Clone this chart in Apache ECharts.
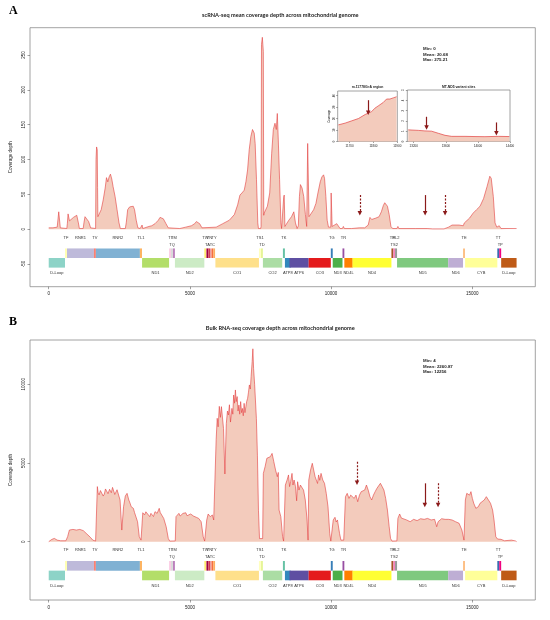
<!DOCTYPE html>
<html>
<head>
<meta charset="utf-8">
<title>Mitochondrial coverage</title>
<script src="https://cdn.jsdelivr.net/npm/echarts@6/dist/echarts.min.js"></script>
<style>html,body{margin:0;padding:0;background:#fff}#main{width:550px;height:620px}</style>
</head>
<body>
<div id="main"></div>
<script>
// ---- coverage, scRNA-seq (position, mean depth) ----
var covA = [[0,2],[150,2],[300,3],[340,4],[355,25],[395,24],[410,2],[430,1],[640,1],[660,8],[685,22],[705,21],[735,12],[805,13],[876,17],[934,19],[993,20],[1016,22],[1051,9],[1086,1],[1220,1],[1250,10],[1285,18],[1344,17],[1414,11],[1484,2],[1543,1],[1660,1],[1675,100],[1695,118],[1718,114],[1730,60],[1741,18],[1790,17],[1858,28],[1929,42],[1999,59],[2046,74],[2092,68],[2139,75],[2186,79],[2233,72],[2280,61],[2350,47],[2420,28],[2490,9],[2537,1],[2713,1],[2748,10],[2795,28],[2865,32],[2935,32],[2993,33],[3040,28],[3099,13],[3157,2],[3239,1],[3290,2],[3306,6],[3330,1],[3400,3],[3550,4],[3649,5],[3766,8],[3883,13],[3941,17],[4000,17],[4058,15],[4152,8],[4233,2],[4292,1],[4643,1],[4850,3],[5053,5],[5170,8],[5228,11],[5287,12],[5345,8],[5427,2],[5470,0.5],[5930,3],[6164,8],[6398,13],[6574,21],[6691,35],[6772,49],[6843,52],[6924,56],[6983,68],[7042,85],[7100,114],[7159,133],[7217,143],[7250,141],[7276,138],[7311,123],[7358,71],[7404,9],[7428,1],[7505,1],[7520,4],[7535,265],[7565,275.21],[7600,255],[7615,20],[7627,23],[7744,33],[7826,52],[7896,109],[7954,143],[8013,152],[8060,143],[8095,166],[8130,128],[8176,71],[8223,9],[8247,1],[8310,1],[8322,46],[8340,49],[8364,4],[8387,6],[8504,13],[8598,18],[8680,25],[8738,9],[8797,1],[8840,5],[8879,47],[8914,64],[8972,59],[9031,47],[9090,21],[9136,4],[9160,3],[9171,123],[9194,121],[9218,18],[9265,18],[9382,28],[9463,37],[9534,52],[9616,68],[9674,75],[9733,78],[9768,73],[9815,47],[9861,13],[9908,3],[9990,3],[10002,52],[10025,50],[10037,4],[10084,6],[10200,8],[10318,1],[10400,1],[10435,4],[10470,1],[10727,1],[11000,2],[11190,2],[11314,6],[11376,17],[11438,14],[11500,16],[11586,16],[11650,15],[11700,18],[11780,25],[11850,34],[11900,38],[11940,38],[11995,33],[12057,21],[12119,4],[12180,1],[12330,1],[12366,4],[12400,1],[13000,1],[13400,1],[13600,0.5],[14000,0.5],[14160,3],[14284,6],[14533,6],[14594,4],[14681,5],[14718,9],[14780,10],[14904,16],[15028,23],[15151,28],[15275,33],[15400,44],[15522,61],[15621,76],[15671,73],[15745,47],[15807,9],[15869,3],[15955,5],[16017,1],[16569,1]];

// ---- coverage, bulk RNA-seq ----
var covB = [[0,4],[113,150],[200,210],[299,100],[422,60],[608,60],[670,320],[732,740],[856,780],[979,740],[1103,780],[1227,700],[1351,490],[1474,280],[1561,100],[1660,40],[1700,40],[1722,3500],[1750,3100],[1784,2970],[1830,3250],[1883,3180],[1930,2900],[1970,3030],[2010,3350],[2056,3280],[2100,3050],[2155,3330],[2217,3110],[2260,3450],[2304,3390],[2340,3000],[2378,3070],[2420,3300],[2465,3180],[2526,2650],[2588,740],[2650,2220],[2712,2900],[2774,3070],[2836,2650],[2880,2450],[2922,2220],[2997,2120],[3040,1850],[3083,1910],[3146,1270],[3207,320],[3269,100],[3300,100],[3331,1840],[3393,1700],[3440,1900],[3492,1800],[3579,1590],[3620,1800],[3665,1760],[3710,1600],[3764,1910],[3839,1800],[3913,2120],[3950,1850],[3987,1910],[4073,1480],[4160,950],[4234,210],[4284,40],[4482,50],[4507,1590],[4568,1700],[4610,1800],[4655,1630],[4755,1800],[4853,1840],[4900,1650],[4940,1700],[5027,1760],[5126,1630],[5225,1550],[5311,1480],[5398,1270],[5472,320],[5522,40],[5570,60],[5596,1380],[5646,1760],[5720,1590],[5794,1700],[5843,1380],[5905,1270],[5930,6500],[5967,7840],[6000,7300],[6041,8600],[6080,7900],[6116,8580],[6190,7200],[6239,4300],[6289,7500],[6330,8300],[6363,8050],[6400,8700],[6437,7600],[6487,8470],[6520,8100],[6549,9320],[6580,8800],[6611,9640],[6640,8900],[6673,9220],[6705,8300],[6735,8680],[6765,8100],[6797,8900],[6830,8200],[6858,8470],[6890,8000],[6920,8790],[6950,8200],[6982,8580],[7010,8900],[7044,9110],[7075,9500],[7106,9960],[7140,9700],[7168,10500],[7205,11440],[7230,12256],[7255,11000],[7292,10000],[7329,9950],[7354,7840],[7391,5500],[7428,2000],[7465,200],[7576,200],[7601,4340],[7663,4770],[7725,5300],[7787,5190],[7848,5400],[7910,5610],[7972,5080],[8034,4550],[8096,4130],[8130,4400],[8158,2010],[8220,1590],[8282,320],[8319,40],[8350,60],[8381,3600],[8442,3920],[8492,4240],[8530,3500],[8566,3810],[8616,4340],[8650,3600],[8690,3920],[8740,3490],[8780,2600],[8814,3810],[8863,3280],[8913,3600],[8963,3600],[9025,3280],[9087,2650],[9149,1380],[9185,100],[9210,3920],[9272,4550],[9334,4980],[9383,4870],[9433,4130],[9483,4030],[9520,3700],[9557,4240],[9600,3900],[9644,4340],[9705,3920],[9767,3710],[9829,3070],[9891,2220],[9952,530],[9990,40],[10040,60],[10076,1380],[10138,1550],[10180,1250],[10225,1380],[10299,530],[10348,100],[10448,100],[10509,2860],[10571,3070],[10633,2750],[10695,2960],[10757,3070],[10819,2750],[10881,2960],[10943,2540],[11005,2960],[11067,3180],[11129,3110],[11190,3280],[11252,3600],[11314,3280],[11376,2860],[11438,2650],[11500,2960],[11561,3180],[11623,3390],[11685,3500],[11747,3710],[11809,3500],[11871,3280],[11933,2750],[11995,2010],[12057,950],[12106,210],[12156,40],[12330,50],[12366,1480],[12428,1760],[12490,1500],[12552,1380],[12676,1380],[12740,1500],[12800,1270],[12923,1420],[13047,1340],[13171,1460],[13295,1420],[13418,1480],[13542,1380],[13666,1420],[13740,950],[13790,1270],[13914,1460],[14037,1420],[14161,1420],[14284,1380],[14409,1270],[14533,1170],[14632,740],[14706,100],[14755,2650],[14804,3070],[14854,3180],[14904,2960],[14953,3180],[15003,2750],[15052,2440],[15126,2120],[15213,2220],[15275,2440],[15337,2440],[15424,2650],[15498,2860],[15572,2650],[15646,2440],[15720,2010],[15770,1380],[15832,320],[15894,170],[16017,150],[16141,60],[16389,100],[16537,40],[16569,4]];

// ---- inset regions (scRNA-seq) ----
var inset1Cov = [[11653,14.5],[11681,16],[11709,18],[11737,20],[11765,23.5],[11792,26],[11806,29],[11820,31],[11841,34],[11855,37],[11869,37],[11883,38],[11897,39]];
var inset2Cov = [[13132,1.13],[13257,1.08],[13340,1.03],[13423,1.0],[13506,0.8],[13590,0.6],[13673,0.5],[13839,0.5],[13964,0.48],[14088,0.47],[14254,0.5],[14392,0.48]];

// ---- stats ----
var statsA = ['Min: 0', 'Mean: 20.68', 'Max: 275.21'];
var statsB = ['Min: 4', 'Mean: 2260.87', 'Max: 12256'];
var maxA = 275.21, maxB = 12256;

// ---- arrows (position, from, to, dashed) ----
var arrowPosA = [11017, 13331, 14037], arrowFromA = [49, 49, 49], arrowToA = [23, 23, 23];
var arrowPosB = [10918, 13319, 13789], arrowFromB = [5084, 3708, 3708], arrowToB = [3750, 2331, 2331];
var arrowDash = [true, false, true];
var inset1Arrow = [11778, 36, 25];
var inset2ArrowPos = [13360, 14230], inset2ArrowFrom = [2.4, 1.85], inset2ArrowTo = [1.35, 0.8];

// ---- ticks ----
var xTicks = [0, 5000, 10000, 15000];
var yTicksA = [-50, 0, 50, 100, 150, 200, 250];
var yTicksB = [0, 5000, 10000];
var inset1XTicks = [11700, 11800, 11900], inset1YTicks = [0, 10, 20, 30, 40];
var inset2XTicks = [13200, 13600, 14000, 14400], inset2YTicks = [0, 1, 2, 3, 4, 5];

// ---- gene track ----
var geneNames = ['D-Loop','TF','RNR1','TV','RNR2','TL1','ND1','TI','TQ','TM','ND2','TW','TA','TN','TC','TY','CO1','TS1','TD','CO2','TK','ATP8','ATP6','CO3','TG','ND3','TR','ND4L','ND4','TH','TS2','TL2','ND5','ND6','TE','CYB','TT','TP','D-Loop'];
var geneStart = [1,577,648,1602,1671,3230,3307,4263,4329,4402,4470,5512,5587,5657,5761,5826,5904,7446,7518,7586,8295,8366,8527,9207,9991,10059,10405,10470,10760,12138,12207,12266,12337,14149,14674,14747,15888,15956,16024];
var geneEnd = [576,647,1601,1670,3229,3304,4262,4331,4400,4469,5511,5579,5655,5729,5826,5891,7445,7514,7585,8269,8364,8572,9207,9990,10058,10404,10469,10766,12137,12206,12265,12336,14148,14673,14742,15887,15953,16023,16569];
// 1 = RNA row, 2 = protein / D-loop row
var geneRow = [2,1,1,1,1,1,2,1,1,1,2,1,1,1,1,1,2,1,1,2,1,2,2,2,1,2,1,2,2,1,1,1,2,2,1,2,1,1,2];
// 1 = label above, 2 = label above (second line), 3 = label below
var geneLevel = [3,1,1,1,1,1,3,1,2,1,3,1,2,1,2,1,3,1,2,3,1,3,3,3,1,3,1,3,3,1,2,1,3,3,1,3,1,2,3];

var geneColors = [
  '#8dd3c7','#ffffb3','#bebada','#fb8072','#80b1d3','#fdb462','#b3de69','#fccde5','#d9d9d9','#bc80bd','#ccebc5','#ffed6f',
  '#9e0142','#d53e4f','#f46d43','#fdae61','#fee08b','#ffffbf','#e6f598','#abdda4','#66c2a5','#3288bd','#5e4fa2',
  '#e41a1c','#377eb8','#4daf4a','#984ea3','#ff7f00','#ffff33','#a65628','#f781bf','#999999',
  '#7fc97f','#beaed4','#fdc086','#ffff99','#386cb0','#f0027f','#bf5b17'
];

var SANS = 'Liberation Sans';
var TXT = '#1a1a1a';

function geneSeries(idx, yMax) {
  return {
    type: 'custom',
    xAxisIndex: idx, yAxisIndex: idx,
    silent: true,
    z: 3,
    data: geneNames.map(function (n, i) {
      return [geneStart[i], geneEnd[i], geneRow[i], geneLevel[i], i];
    }),
    renderItem: function (params, api) {
      var s = api.value(0), e = api.value(1), row = api.value(2), lvl = api.value(3), i = api.value(4);
      var top = row === 1 ? -0.1 : -0.15;
      var p1 = api.coord([s - 1, top * yMax]);
      var p2 = api.coord([e, (top - 0.05) * yMax]);
      var lp = api.coord([(s + e) / 2, [0, -0.045, -0.08, -0.228][lvl] * yMax]);
      return {
        type: 'group',
        children: [
          { type: 'rect', shape: { x: p1[0], y: p1[1], width: Math.max(p2[0] - p1[0], 0.8), height: p2[1] - p1[1] },
            style: { fill: geneColors[i] } },
          { type: 'text', x: lp[0], y: lp[1],
            style: { text: geneNames[i], fill: '#333', fontSize: 4, fontFamily: SANS, align: 'center', verticalAlign: 'middle' } }
        ]
      };
    }
  };
}

function arrowLines(pos, from, to, dash) {
  return pos.map(function (x, i) {
    var ls = { color: '#8b1a1a', width: 1.2, type: dash[i] ? [2, 1.5] : 'solid' };
    return [{ coord: [x, from[i]], lineStyle: ls }, { coord: [x, to[i]], lineStyle: ls }];
  });
}

function covSeries(idx, data, arrows, lw) {
  return {
    type: 'line',
    xAxisIndex: idx, yAxisIndex: idx,
    data: data,
    showSymbol: false,
    symbol: 'none',
    silent: true,
    z: 2,
    lineStyle: { color: '#e23b3b', width: lw, opacity: 0.85 },
    areaStyle: { color: '#f3cbbc', opacity: 1 },
    markLine: arrows ? {
      silent: true,
      symbol: ['none', 'triangle'],
      symbolSize: [4.5, 4.5],
      label: { show: false },
      animation: false,
      data: arrows
    } : undefined
  };
}

function plain(v) { return String(v); }

function xAxis(idx, min, max, ticks, fs) {
  return {
    type: 'value', gridIndex: idx, min: min, max: max,
    axisLine: { show: false, onZero: false },
    axisTick: { show: true, customValues: ticks, length: fs < 4 ? 1.5 : 2.5, lineStyle: { color: '#444', width: 0.5 } },
    axisLabel: { customValues: ticks, formatter: plain, fontSize: fs, color: TXT, fontFamily: SANS, margin: fs < 4 ? 3 : 5 },
    splitLine: { show: false }
  };
}

function yAxis(idx, min, max, ticks, fs, name, gap) {
  return {
    type: 'value', gridIndex: idx, min: min, max: max,
    name: name, nameLocation: 'middle', nameGap: gap,
    nameTextStyle: { fontSize: fs, color: TXT, fontFamily: SANS },
    axisLine: { show: false, onZero: false },
    axisTick: { show: true, customValues: ticks, length: fs < 4 ? 1.5 : 2.5, lineStyle: { color: '#444', width: 0.5 } },
    axisLabel: { customValues: ticks, formatter: plain, fontSize: fs, color: TXT, fontFamily: SANS, rotate: 90, margin: fs < 4 ? 2.5 : 4 },
    splitLine: { show: false }
  };
}

var gridStyle = { show: true, borderColor: '#8c8c8c', borderWidth: 0.8, backgroundColor: 'rgba(0,0,0,0)' };

var myChart = echarts.init(document.getElementById('main'));

var option = {
  animation: false,
  backgroundColor: '#fff',
  title: [
    { text: 'A', left: 9, top: 5, padding: 0, textStyle: { fontFamily: 'Liberation Serif', fontWeight: 'bold', fontSize: 12, color: '#000' } },
    { text: 'scRNA-seq mean coverage depth across mitochondrial genome', left: 280.3, top: 12, textAlign: 'center', padding: 0,
      textStyle: { fontFamily: 'Lato', fontWeight: 'bold', fontSize: 5.6, color: TXT } },
    { text: statsA.join('\n'), left: 423, top: 46, padding: 0,
      textStyle: { fontFamily: SANS, fontWeight: 'bold', fontSize: 4.4, lineHeight: 5.7, color: TXT } },
    { text: 'm.11778G>A region', left: 367.5, top: 85.5, textAlign: 'center', padding: 0,
      textStyle: { fontFamily: SANS, fontSize: 3.4, color: TXT } },
    { text: 'MT-ND5 variant sites', left: 458.6, top: 85.5, textAlign: 'center', padding: 0,
      textStyle: { fontFamily: SANS, fontSize: 3.4, color: TXT } },
    { text: 'B', left: 9, top: 316, padding: 0, textStyle: { fontFamily: 'Liberation Serif', fontWeight: 'bold', fontSize: 12, color: '#000' } },
    { text: 'Bulk RNA-seq coverage depth across mitochondrial genome', left: 280.3, top: 325, textAlign: 'center', padding: 0,
      textStyle: { fontFamily: 'Lato', fontWeight: 'bold', fontSize: 5.6, color: TXT } },
    { text: statsB.join('\n'), left: 423, top: 358, padding: 0,
      textStyle: { fontFamily: SANS, fontWeight: 'bold', fontSize: 4.4, lineHeight: 5.7, color: TXT } }
  ],
  grid: [
    Object.assign({ left: 25.4, top: 27.7, width: 509.9, height: 259 }, gridStyle),
    Object.assign({ left: 25.4, top: 340, width: 509.9, height: 260 }, gridStyle),
    Object.assign({ left: 337.7, top: 91, width: 59.6, height: 50.5 }, gridStyle),
    Object.assign({ left: 407.3, top: 90, width: 102.7, height: 51.5 }, gridStyle)
  ],
  xAxis: [
    xAxis(0, -663, 17232, xTicks, 4.5),
    xAxis(1, -663, 17232, xTicks, 4.5),
    xAxis(2, 11650, 11900, inset1XTicks, 3),
    xAxis(3, 13120, 14400, inset2XTicks, 3)
  ],
  yAxis: [
    yAxis(0, -82.4, 289, yTicksA, 4.5, 'Coverage depth', 17),
    yAxis(1, -3704, 12814, yTicksB, 4.5, 'Coverage depth', 17),
    yAxis(2, 0, 44, inset1YTicks, 3, 'Coverage', 7),
    yAxis(3, 0, 5, inset2YTicks, 3, '', 0)
  ],
  series: [
    covSeries(0, covA, arrowLines(arrowPosA, arrowFromA, arrowToA, arrowDash), 0.7),
    geneSeries(0, maxA),
    covSeries(1, covB, arrowLines(arrowPosB, arrowFromB, arrowToB, arrowDash), 0.7),
    geneSeries(1, maxB),
    covSeries(2, inset1Cov, arrowLines([inset1Arrow[0]], [inset1Arrow[1]], [inset1Arrow[2]], [false]), 0.8),
    covSeries(3, inset2Cov, arrowLines(inset2ArrowPos, inset2ArrowFrom, inset2ArrowTo, [false, false]), 0.8)
  ]
};

myChart.setOption(option);
</script>
</body>
</html>
